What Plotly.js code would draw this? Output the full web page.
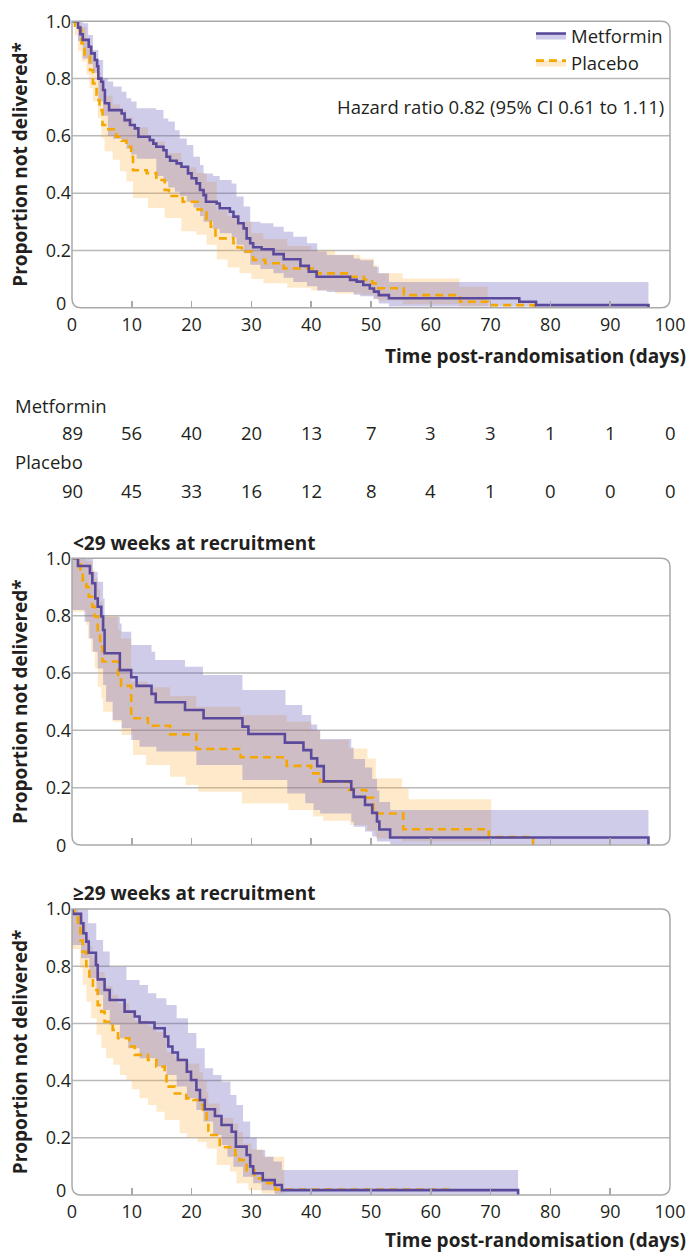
<!DOCTYPE html>
<html><head><meta charset="utf-8">
<script src="https://cdn.plot.ly/plotly-3.0.1.min.js"></script>
<style>html,body{margin:0;padding:0;background:#fff}</style>
</head><body><div id="chart" style="width:689px;height:1253px"></div>
<script>
// ---------- Data ----------
// Panel 1: all participants
const metAllT = [0,1.0,1.4,1.8,2.8,3.2,3.8,4.2,4.4,4.9,5.2,5.5,6.2,8.3,8.8,9.7,10.5,11.1,13.0,13.6,14.1,15.3,15.8,16.4,17.5,18.3,19.4,20.0,20.8,21.4,22.0,22.4,24.2,24.7,26.4,27.0,27.8,28.7,29.2,29.8,30.3,31.7,33.7,35.4,38.2,39.6,40.9,46.5,47.6,48.7,49.8,50.5,51.3,53.0,74.8,77.6,96.4];
const metAllS = [1,0.978,0.955,0.935,0.911,0.888,0.865,0.843,0.80,0.789,0.76,0.714,0.69,0.678,0.655,0.638,0.626,0.597,0.585,0.573,0.562,0.55,0.527,0.513,0.504,0.492,0.469,0.452,0.434,0.411,0.393,0.37,0.364,0.347,0.335,0.318,0.295,0.277,0.242,0.225,0.211,0.204,0.187,0.169,0.146,0.126,0.108,0.097,0.091,0.079,0.067,0.056,0.044,0.033,0.021,0.009,0];
const plaAllT = [0,0.5,1.3,1.6,2.1,3.0,3.5,4.1,4.6,5.1,5.8,7.4,8.3,9.1,9.9,10.2,12.5,14.1,15.5,16.2,18.5,21.0,21.7,22.5,23.2,24.0,27.0,27.7,28.4,30.3,32.3,35.4,41.0,46.5,48.8,50.2,51.0,55.5,64.9,69.6,77.3];
const plaAllS = [1,0.985,0.97,0.923,0.877,0.83,0.783,0.725,0.69,0.638,0.623,0.597,0.583,0.562,0.527,0.48,0.47,0.446,0.411,0.39,0.37,0.343,0.332,0.308,0.283,0.242,0.225,0.21,0.196,0.167,0.155,0.137,0.12,0.108,0.097,0.085,0.068,0.044,0.021,0.009,0];
const metAllBandT = [0,1.0,1.8,2.7,3.5,4.4,5.2,6.0,6.9,8.3,9.1,9.9,10.8,14.1,15.3,16.1,17.2,18.0,19.2,20.3,21.4,22.0,23.6,24.7,26.7,27.5,28.7,29.8,31.5,33.7,35.4,37.0,39.3,41.0,42.6,47.1,48.2,50.4,51.3,53.0,96.4];
const metAllHi = [1,1,0.993,0.952,0.90,0.865,0.80,0.79,0.772,0.754,0.731,0.72,0.696,0.69,0.661,0.65,0.62,0.591,0.568,0.527,0.498,0.469,0.46,0.446,0.434,0.388,0.353,0.30,0.295,0.283,0.265,0.248,0.225,0.196,0.184,0.172,0.166,0.143,0.12,0.09,0.09];
const metAllLo = [1,0.93,0.87,0.85,0.82,0.72,0.67,0.60,0.59,0.58,0.555,0.535,0.52,0.46,0.44,0.42,0.405,0.39,0.37,0.35,0.32,0.30,0.275,0.26,0.245,0.22,0.19,0.15,0.135,0.12,0.105,0.09,0.075,0.06,0.055,0.045,0.04,0.03,0.015,0.004,0.004];
const plaAllBandT = [0,0.5,1.0,1.6,2.4,2.9,3.5,4.3,4.9,5.45,6.8,8.0,9.1,10.2,12.7,15.5,18.3,20.8,22.5,24.2,26,28,30,32,36,40,44,48.2,50.5,51,55.3,64.8,69.5];
const plaAllLo = [1,0.95,0.895,0.86,0.814,0.767,0.72,0.662,0.593,0.546,0.517,0.476,0.441,0.383,0.348,0.313,0.267,0.255,0.22,0.168,0.14,0.12,0.10,0.085,0.07,0.06,0.05,0.045,0.035,0.025,0.012,0.004,0.004];
const plaAllHi = [1,1,0.995,0.98,0.94,0.91,0.87,0.82,0.78,0.74,0.71,0.69,0.665,0.63,0.58,0.54,0.49,0.47,0.44,0.34,0.32,0.30,0.26,0.24,0.215,0.2,0.185,0.172,0.149,0.12,0.102,0.073,0.073];

// Panel 2: <29 weeks at recruitment
const metEarlyT = [0,1.0,3.0,3.4,3.9,4.3,4.9,5.2,5.45,8.0,9.9,10.8,13.3,14.0,18.9,22.0,28.5,29.5,35.6,38.7,40.0,41.0,42.1,46.7,47.1,49.0,50.2,51.0,51.4,53.2,96.4];
const metEarlyS = [1,0.973,0.948,0.913,0.86,0.831,0.797,0.75,0.669,0.61,0.585,0.555,0.527,0.498,0.471,0.442,0.413,0.387,0.357,0.331,0.302,0.275,0.222,0.193,0.168,0.14,0.112,0.082,0.054,0.026,0];
const plaEarlyT = [0,1.4,1.8,2.4,2.8,3.4,3.8,4.3,4.7,5.1,7.7,8.2,9.9,12.7,16.4,20.8,28.2,35.9,40.0,41.5,46.3,49.2,50.4,55.4,69.7,77.1];
const plaEarlyS = [1,0.96,0.924,0.9,0.866,0.831,0.797,0.744,0.692,0.64,0.587,0.555,0.442,0.416,0.386,0.335,0.306,0.276,0.25,0.221,0.192,0.165,0.11,0.055,0.028,0];
const metEarlyHiT = [0,3.5,4.3,5.2,5.45,8.0,8.3,9.9,13.3,13.9,18.9,21.9,28.5,35.7,38.5,40.0,41.0,41.5,46.7,47.1,49.0,50.2,51.0,51.4,53.2,96.4];
const metEarlyHi = [1,0.953,0.918,0.86,0.796,0.773,0.744,0.698,0.674,0.645,0.622,0.593,0.541,0.488,0.453,0.42,0.40,0.37,0.34,0.30,0.27,0.23,0.19,0.15,0.122,0.122];
const metEarlyLoT = [0,2.1,2.9,3.5,4.3,5.2,5.7,6.8,8.3,9.9,11.3,14.1,20.8,28.5,36.0,39.0,40.4,41.5,46.7,47.1,49.0,50.2,51.0,53.2,96.4];
const metEarlyLo = [0.82,0.779,0.72,0.674,0.616,0.558,0.5,0.436,0.407,0.366,0.343,0.326,0.279,0.227,0.18,0.146,0.122,0.11,0.081,0.064,0.047,0.03,0.012,0.003,0.003];
const plaEarlyHiT = [0,2.4,3.4,3.8,4.3,4.7,5.1,7.7,8.2,9.9,12.7,16.4,20.8,28.2,35.9,40.0,41.5,46.3,49.4,50.8,55.2,56.3,70.1];
const plaEarlyHi = [1,0.99,0.96,0.93,0.89,0.85,0.80,0.75,0.72,0.57,0.55,0.52,0.482,0.453,0.43,0.40,0.366,0.337,0.302,0.233,0.198,0.16,0.16];
const plaEarlyLoT = [0,2.4,2.7,3.2,3.8,4.3,4.9,5.2,6.8,8.3,10.2,12.4,16.4,19.0,21.1,28.4,36.2,40.3,42.0,46.5,49.4,50.8,55.2,70.1];
const plaEarlyLo = [0.814,0.767,0.72,0.674,0.616,0.552,0.511,0.465,0.43,0.384,0.314,0.279,0.238,0.209,0.186,0.145,0.122,0.099,0.085,0.07,0.05,0.023,0.012,0.012];

// Panel 3: >=29 weeks at recruitment
const metLateT = [0,0.1,1.5,1.9,2.4,2.8,4.0,4.3,5.45,6.3,8.8,10.5,11.3,13.8,15.5,16.1,16.8,17.7,19.2,19.9,20.8,21.4,22.2,23.9,25.0,26.7,27.4,29.2,29.8,30.3,31.9,33.9,35.1,74.6];
const metLateS = [1,0.983,0.95,0.915,0.886,0.847,0.804,0.754,0.717,0.682,0.641,0.624,0.603,0.583,0.554,0.519,0.498,0.472,0.431,0.402,0.367,0.332,0.3,0.276,0.245,0.221,0.169,0.14,0.1,0.076,0.052,0.035,0.017,0];
const plaLateT = [0,0.4,1.0,1.4,1.8,2.4,2.9,3.5,4.3,4.9,5.45,6.8,7.7,9.6,10.5,12.7,14.1,15.5,15.8,17.2,19.1,20.3,21.3,21.9,22.5,22.8,24.7,27.3,28.0,29.2,30.5,31.9,34.0,64.0];
const plaLateS = [1,0.97,0.94,0.89,0.85,0.8,0.757,0.717,0.664,0.641,0.606,0.577,0.548,0.519,0.49,0.472,0.449,0.425,0.379,0.355,0.338,0.332,0.315,0.286,0.25,0.21,0.167,0.14,0.122,0.087,0.058,0.041,0.019,0.019];
const metLateHiT = [0,2.7,4.06,5.2,6.3,9.1,11.3,12.7,14.1,15.8,17.5,19.4,20.8,22.2,23.6,25.0,26.5,27.5,28.6,29.8,30.9,32.3,33.7,35.1,74.6];
const metLateHi = [1,0.95,0.892,0.851,0.798,0.752,0.734,0.705,0.688,0.664,0.618,0.566,0.513,0.443,0.42,0.396,0.35,0.315,0.257,0.2,0.157,0.134,0.117,0.087,0.087];
const metLateLoT = [0,1.5,2.9,4.1,5.2,6.3,8.0,9.4,11.3,14.1,15.8,17.5,19.2,20.8,22.0,23.6,25.0,26.0,27.0,28.6,30.3,31.7,33.9,74.6];
const metLateLo = [0.874,0.828,0.758,0.7,0.647,0.595,0.548,0.513,0.478,0.449,0.42,0.379,0.338,0.297,0.257,0.21,0.175,0.134,0.099,0.064,0.041,0.017,0.003,0.003];
const plaLateHiT = [0,1.0,1.8,2.4,2.9,3.5,4.3,5.45,6.8,7.7,9.6,10.5,12.7,14.1,15.8,17.2,19.1,21.3,21.9,22.5,22.8,24.7,27.0,27.8,28.6,30.0,32.0,34.8,35.5];
const plaLateHi = [1,0.99,0.95,0.9,0.87,0.83,0.78,0.73,0.70,0.67,0.64,0.61,0.59,0.57,0.5,0.48,0.46,0.43,0.40,0.36,0.32,0.27,0.25,0.22,0.18,0.16,0.134,0.134,0.134];
const plaLateLoT = [0,1.3,1.8,2.4,3.2,4.1,4.9,5.7,6.9,8.0,9.1,10.0,11.3,12.7,14.1,15.5,18.0,19.2,21.0,22.5,24.2,26.4,27.5,29.5,31.7,35.5];
const plaLateLo = [0.86,0.793,0.735,0.676,0.618,0.56,0.513,0.478,0.455,0.42,0.402,0.37,0.338,0.315,0.291,0.262,0.216,0.2,0.185,0.163,0.105,0.082,0.041,0.017,0.005,0.005];

// Number at risk table
const riskDays = [0,10,20,30,40,50,60,70,80,90,100];
const metRisk = [89,56,40,20,13,7,3,3,1,1,0];
const plaRisk = [90,45,33,16,12,8,4,1,0,0,0];

// Axis ticks
const xTickVals = [0,10,20,30,40,50,60,70,80,90,100];
const yTickVals = [0,0.2,0.4,0.6,0.8,1];
const yTickText = ['0','0.2','0.4','0.6','0.8','1.0'];
const gridVals = [0.2,0.4,0.6,0.8];

// ---------- Styles ----------
const FONT = 'Open Sans, Noto Sans, sans-serif';
const TXT = '#231f20';
const PURPLE = '#5b4a9b', ORANGE = '#f5a700';
const PURPLE_FILL = 'rgba(95,85,185,0.30)', ORANGE_FILL = 'rgba(253,180,70,0.28)';
const BOX = '#a9a9a9', GRID = '#b9b9b9';
const REG = 18.5, TICK = 18, BOLD = 19;

function band(xa, ya, loT, lo, hiT, hi, fill) {
  return [
    {type:'scatter', mode:'lines', x:loT, y:lo, xaxis:xa, yaxis:ya,
     line:{width:0, shape:'hv'}, showlegend:false, hoverinfo:'skip'},
    {type:'scatter', mode:'lines', x:hiT, y:hi, xaxis:xa, yaxis:ya,
     line:{width:0, shape:'hv'}, fill:'tonexty', fillcolor:fill, showlegend:false, hoverinfo:'skip'}
  ];
}
function curve(xa, ya, t, s, color, dash, name) {
  return {type:'scatter', mode:'lines', x:t, y:s, xaxis:xa, yaxis:ya, name:name,
    line:{color:color, width:2.6, shape:'hv', dash:dash}, showlegend:false};
}

const traces = [];
const panels = [
  {xa:'x',  ya:'y',  pb:[plaAllBandT,plaAllLo,plaAllBandT,plaAllHi], mb:[metAllBandT,metAllLo,metAllBandT,metAllHi], p:[plaAllT,plaAllS], m:[metAllT,metAllS]},
  {xa:'x2', ya:'y2', pb:[plaEarlyLoT,plaEarlyLo,plaEarlyHiT,plaEarlyHi], mb:[metEarlyLoT,metEarlyLo,metEarlyHiT,metEarlyHi], p:[plaEarlyT,plaEarlyS], m:[metEarlyT,metEarlyS]},
  {xa:'x3', ya:'y3', pb:[plaLateLoT,plaLateLo,plaLateHiT,plaLateHi], mb:[metLateLoT,metLateLo,metLateHiT,metLateHi], p:[plaLateT,plaLateS], m:[metLateT,metLateS]}
];
panels.forEach(P => {
  traces.push(...band(P.xa, P.ya, P.pb[0], P.pb[1], P.pb[2], P.pb[3], ORANGE_FILL));
  traces.push(...band(P.xa, P.ya, P.mb[0], P.mb[1], P.mb[2], P.mb[3], PURPLE_FILL));
  traces.push(curve(P.xa, P.ya, P.p[0], P.p[1], ORANGE, '8px,5px', 'Placebo'));
  traces.push(curve(P.xa, P.ya, P.m[0], P.m[1], PURPLE, 'solid', 'Metformin'));
});
// legend entries (line over shaded band)
traces.push({type:'scatter', mode:'lines', x:[null], y:[null], name:'Metformin', fill:'toself',
  fillcolor:PURPLE_FILL, line:{color:PURPLE, width:2.6}, showlegend:true, xaxis:'x', yaxis:'y', hoverinfo:'skip'});
traces.push({type:'scatter', mode:'lines', x:[null], y:[null], name:'Placebo', fill:'toself',
  fillcolor:ORANGE_FILL, line:{color:ORANGE, width:2.6, dash:'8px,5px'}, showlegend:true, xaxis:'x', yaxis:'y', hoverinfo:'skip'});

// ---------- Layout ----------
const H = 1253, L = 72, R = 19, PW = 689 - L - R;
const py = p => 1 - p / H;              // pixel row -> paper y
const px = p => (p - L) / PW;           // pixel column -> paper x
const domains = [[py(307.7), py(21.3)], [py(845), py(558.3)], [py(1195), py(909)]];

// the "0" label of each y axis sits slightly above the corner (as in the reference),
// so it is drawn as an annotation; the other labels are the axis tick labels
const yAxisVals = yTickVals.filter(v => v !== 0);
const yAxisText = yTickText.filter((t, i) => yTickVals[i] !== 0);

function xAxis(anchor, showLabels) {
  return {domain:[0,1], anchor:anchor, range:[0,100], tickvals:xTickVals, ticks:'inside', ticklen:7,
    tickwidth:1.5, tickcolor:BOX, showticklabels:showLabels, ticklabelstandoff:4,
    showline:false, showgrid:false, zeroline:false,
    tickfont:{family:FONT, size:TICK, color:TXT}, fixedrange:true};
}
function yAxis(anchor, dom) {
  return {domain:dom, anchor:anchor, range:[0,1], tickvals:yAxisVals, ticktext:yAxisText, ticks:'',
    showline:false, showgrid:false, zeroline:false, tickfont:{family:FONT, size:TICK, color:TXT},
    title:{text:'Proportion not delivered*', font:{family:FONT, size:BOLD, color:TXT, weight:'bold'}, standoff:13},
    fixedrange:true};
}

const shapes = [];
const axPairs = [['x','y'],['x2','y2'],['x3','y3']];
axPairs.forEach((a, i) => {
  const hpx = (domains[i][1] - domains[i][0]) * H;
  const rx = 9 / PW, ry = 9 / hpx;
  gridVals.forEach(v => shapes.push({type:'line', xref:a[0]+' domain', yref:a[1], x0:0, x1:1, y0:v, y1:v,
    line:{color:GRID, width:1.5}, layer:'below'}));
  shapes.push({type:'path', xref:a[0]+' domain', yref:a[1]+' domain', layer:'above',
    path:`M0,1 L${1-rx},1 Q1,1 1,${1-ry} L1,${ry} Q1,0 ${1-rx},0 L${rx},0 Q0,0 0,${ry} Z`,
    line:{color:BOX, width:1.5}});
});

const ann = [];
const f = (size, bold) => ({family:FONT, size:size, color:TXT, weight: bold ? 'bold' : 'normal'});
const zeroShift = [5, 0, 5];   // raised only where an x tick label sits below
axPairs.forEach((a, i) => {
  ann.push({xref:'paper', yref:a[1], x:px(68), y:yTickVals[0], xanchor:'right', yanchor:'middle', yshift:zeroShift[i],
    showarrow:false, text:yTickText[0], font:f(TICK)});
});
ann.push({xref:'paper', yref:'paper', x:px(666), y:py(107), xanchor:'right', yanchor:'middle', showarrow:false,
  text:'Hazard ratio 0.82 (95% CI 0.61 to 1.11)', font:f(REG)});
ann.push({xref:'paper', yref:'paper', x:px(688), y:py(356), xanchor:'right', yanchor:'middle', showarrow:false,
  text:'Time post-randomisation (days)', font:f(BOLD, true)});
ann.push({xref:'paper', yref:'paper', x:px(688), y:py(1240), xanchor:'right', yanchor:'middle', showarrow:false,
  text:'Time post-randomisation (days)', font:f(BOLD, true)});
ann.push({xref:'paper', yref:'paper', x:px(13), y:py(405), xanchor:'left', yanchor:'middle', showarrow:false,
  text:'Metformin', font:f(REG)});
ann.push({xref:'paper', yref:'paper', x:px(13), y:py(462), xanchor:'left', yanchor:'middle', showarrow:false,
  text:'Placebo', font:f(REG)});
riskDays.forEach((d, i) => {
  ann.push({xref:'x', yref:'paper', x:d, y:py(433), xanchor:'center', yanchor:'middle', showarrow:false,
    text:String(metRisk[i]), font:f(REG)});
  ann.push({xref:'x', yref:'paper', x:d, y:py(491), xanchor:'center', yanchor:'middle', showarrow:false,
    text:String(plaRisk[i]), font:f(REG)});
});
ann.push({xref:'paper', yref:'paper', x:px(71), y:py(543), xanchor:'left', yanchor:'middle', showarrow:false,
  text:'<29 weeks at recruitment', font:f(BOLD, true)});
ann.push({xref:'paper', yref:'paper', x:px(71), y:py(893), xanchor:'left', yanchor:'middle', showarrow:false,
  text:'≥29 weeks at recruitment', font:f(BOLD, true)});

const layout = {
  width:689, height:H, margin:{l:L, r:R, t:0, b:0}, paper_bgcolor:'#fff', plot_bgcolor:'rgba(0,0,0,0)',
  font:{family:FONT, color:TXT},
  xaxis:xAxis('y', true), xaxis2:xAxis('y2', false), xaxis3:xAxis('y3', true),
  yaxis:yAxis('x', domains[0]), yaxis2:yAxis('x2', domains[1]), yaxis3:yAxis('x3', domains[2]),
  showlegend:true,
  legend:{x:px(668), xanchor:'right', y:py(17), yanchor:'top', bgcolor:'rgba(0,0,0,0)', traceorder:'normal',
    font:{family:FONT, size:REG, color:TXT}, itemwidth:30, tracegroupgap:0},
  shapes:shapes, annotations:ann
};

Plotly.newPlot('chart', traces, layout, {displayModeBar:false, staticPlot:true});
</script></body></html>
